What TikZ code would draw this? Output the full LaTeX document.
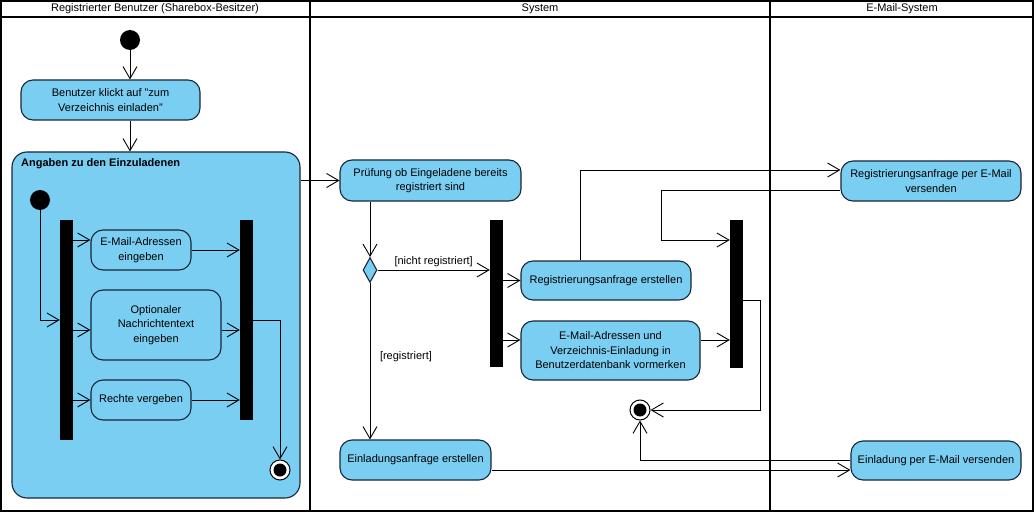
\documentclass[tikz,border=0pt]{standalone}
\usepackage{fontspec}
\setmainfont{Liberation Sans}
\usetikzlibrary{arrows.meta,shapes.geometric}

\definecolor{actfill}{RGB}{122,206,242}
\definecolor{actline}{RGB}{24,36,56}
\tikzset{
	act/.style={draw=actline,fill=actfill,line width=1.1pt,rounded corners=12pt,align=center,inner sep=0pt,font=\fontsize{11}{14.5}\selectfont},
	bar/.style={fill=black,inner sep=0pt,minimum width=13pt},
	start/.style={circle,fill=black,inner sep=0pt,minimum size=20pt},
	final/.style={circle,draw,fill=white,line width=1pt,inner sep=0pt,minimum size=20pt,
		path picture={\fill[black] (path picture bounding box.center) circle (6.5pt);}},
	flow/.style={line width=0.9pt,-{Straight Barb[length=12pt,width=14pt]}},
	lane/.style={line width=2pt},
	guard/.style={font=\fontsize{11}{13}\selectfont,inner sep=1pt}
}

\begin{document}
\begin{tikzpicture}[x=1pt,y=-1pt]
		\useasboundingbox (0,0) rectangle (1036,516);
		%Lanes
		\draw[lane] (1,1) rectangle (1033,511);
		\draw[lane] (1,17)--(1033,17);
		\draw[lane] (310,1)--(310,511);
		\draw[lane] (770,1)--(770,511);
		\node[font=\fontsize{11}{13}\selectfont] (laneA) at (155,9) {Registrierter Benutzer (Sharebox-Besitzer)};
		\node[font=\fontsize{11}{13}\selectfont] (laneB) at (540,9) {System};
		\node[font=\fontsize{11}{13}\selectfont] (laneC) at (902,9) {E-Mail-System};
		%Benutzer
		\node[start] (init1) at (130,40) {};
		\node[act,minimum width=179pt,minimum height=40pt] (klick) at (110.5,100) {Benutzer klickt auf "zum\\Verzeichnis einladen"};
		\node[act,rounded corners=15pt,minimum width=288pt,minimum height=346pt] (region) at (156,325) {};
		\node[anchor=west,font=\bfseries\fontsize{11}{13}\selectfont,inner sep=0pt] (regionlabel) at (21,164) {Angaben zu den Einzuladenen};
		\node[start] (init2) at (40,200) {};
		\node[bar,minimum height=220pt] (forkA) at (66.5,330) {};
		\node[act,minimum width=100pt,minimum height=40pt] (mail) at (141,250) {E-Mail-Adressen\\eingeben};
		\node[act,minimum width=130pt,minimum height=70pt] (opt) at (156,325) {Optionaler\\Nachrichtentext\\eingeben};
		\node[act,minimum width=100pt,minimum height=40pt] (rechte) at (141,400) {Rechte vergeben};
		\node[bar,minimum height=200pt] (joinA) at (246.5,320) {};
		\node[final] (final1) at (280,470) {};
		\draw[flow] (init1)--(init1 |- klick.north);
		\draw[flow] (init1 |- klick.south)--(init1 |- region.north);
		\draw[flow] (init2) |- (forkA.west |- 0,320);
		\draw[flow] (forkA.east |- 0,240)--(mail.west |- 0,240);
		\draw[flow] (forkA.east |- 0,330)--(opt.west |- 0,330);
		\draw[flow] (forkA.east |- rechte.west)--(rechte.west);
		\draw[flow] (mail.east)--(joinA.west |- mail.east);
		\draw[flow] (opt.east |- 0,330)--(joinA.west |- 0,330);
		\draw[flow] (rechte.east)--(joinA.west |- rechte.east);
		\draw[flow] (joinA.east |- 0,320) -| (final1.north);
		%System
		\node[act,minimum width=181pt,minimum height=41pt] (pruef) at (430.5,180.5) {Prüfung ob Eingeladene bereits\\registriert sind};
		\node[diamond,draw=actline,fill=actfill,line width=1.1pt,inner sep=0pt,minimum width=14pt,minimum height=25pt] (dec) at (370,270) {};
		\node[bar,minimum height=147pt] (forkB) at (496.5,293.5) {};
		\node[act,minimum width=170pt,minimum height=39pt] (regerst) at (606,280.5) {Registrierungsanfrage erstellen};
		\node[act,minimum width=179pt,minimum height=59pt] (vormerk) at (610.5,350.5) {E-Mail-Adressen und\\Verzeichnis-Einladung in\\Benutzerdatenbank vormerken};
		\node[bar,minimum height=148pt] (joinB) at (736.5,294) {};
		\node[final] (final2) at (640,410) {};
		\node[act,minimum width=151pt,minimum height=40pt] (einlad) at (415.5,460) {Einladungsanfrage erstellen};
		\draw[flow] (region.east |- pruef.west)--(pruef.west);
		\draw[flow] (dec |- pruef.south)--(dec.north);
		\draw[flow] (dec.east)--(forkB.west |- dec.east) node[guard,midway,above=2pt] {[nicht registriert]};
		\draw[flow] (dec.south)--(dec |- einlad.north);
		\node[guard] (regguard) at (406,357) {[registriert]};
		\draw[flow] (forkB.east |- regerst.west)--(regerst.west);
		\draw[flow] (forkB.east |- 0,340)--(vormerk.west |- 0,340);
		\draw[flow] (vormerk.east |- 0,340)--(joinB.west |- 0,340);
		\draw[flow] (joinB.east |- 0,300)--(760,300) |- (final2.east);
		%E-Mail-System
		\node[act,minimum width=180pt,minimum height=40pt] (regmail) at (931,181) {Registrierungsanfrage per E-Mail\\versenden};
		\node[act,minimum width=170pt,minimum height=39pt] (einmail) at (936,460.5) {Einladung per E-Mail versenden};
		\draw[flow] (580,0 |- regerst.north) |- (regmail.west |- 0,170);
		\draw[flow] (regmail.west |- 0,190) -| (661,240)--(joinB.west |- 0,240);
		\draw[flow] (einlad.east |- 0,470)--(einmail.west |- 0,470);
		\draw[flow] (einmail.west |- 0,460) -| (final2.south);
\end{tikzpicture}
\end{document}
